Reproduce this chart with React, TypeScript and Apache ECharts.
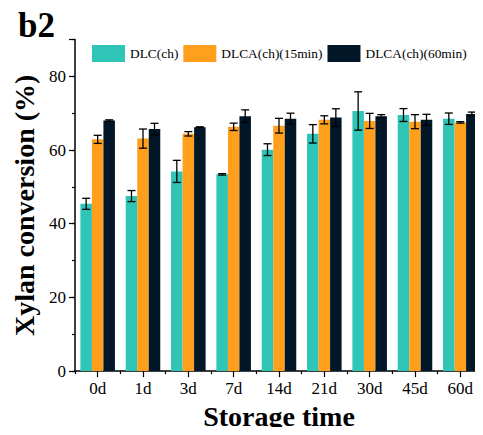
import React, { useEffect, useRef } from "react";
import * as echarts from "echarts";

const categories = ["0d", "1d", "3d", "7d", "14d", "21d", "30d", "45d", "60d"];
const seriesNames = ["DLC(ch)", "DLCA(ch)(15min)", "DLCA(ch)(60min)"];
const dlc = [45.4, 47.5, 54.2, 53.4, 60.1, 64.4, 70.6, 69.5, 68.5];
const dlcErr = [1.5, 1.5, 3.0, 0.2, 1.6, 2.5, 5.2, 1.75, 1.55];
const dlca15 = [62.9, 63.1, 64.4, 66.3, 66.6, 68.2, 67.9, 67.7, 67.5];
const dlca15Err = [1.1, 2.6, 0.6, 1.0, 2.0, 1.1, 2.05, 1.9, 0.2];
const dlca60 = [68.0, 65.7, 66.2, 69.2, 68.5, 68.8, 69.2, 68.2, 69.8];
const dlca60Err = [0.2, 1.55, 0.1, 1.7, 1.5, 2.4, 0.4, 1.5, 0.5];
const colors = ["#2EC4B6", "#FF9F1C", "#011627"];
const yTickLabels = [0, 20, 40, 60, 80];

const FONT = "'Liberation Serif', 'Times New Roman', serif";
const BAR_FRAC = 0.254;

export default function App() {
  const ref = useRef<HTMLDivElement>(null);
  useEffect(() => {
    if (!ref.current) return;
    const chart = echarts.init(ref.current, null, { renderer: "svg" });
    const values = [dlc, dlca15, dlca60];
    const errs = [dlcErr, dlca15Err, dlca60Err];

    const barSeries = values.map((v, i) => ({
      name: seriesNames[i],
      type: "bar",
      data: v,
      barWidth: BAR_FRAC * 100 + "%",
      barGap: "0%",
      itemStyle: { color: colors[i] },
      z: 2,
    }));

    const errSeries = values.map((v, i) => ({
      type: "custom",
      name: "err" + i,
      data: v.map((val, k) => [k, val, errs[i][k]]),
      z: 5,
      renderItem: (params: any, api: any) => {
        const k = api.value(0);
        const val = api.value(1);
        const e = api.value(2);
        const band = api.size([1, 0])[0];
        const off = (i - 1) * band * BAR_FRAC;
        const hi = api.coord([k, val + e]);
        const lo = api.coord([k, val - e]);
        const x = hi[0] + off;
        const cw = 4;
        const style = { stroke: "#000", lineWidth: 1.3 };
        return {
          type: "group",
          children: [
            { type: "line", shape: { x1: x, y1: hi[1], x2: x, y2: lo[1] }, style },
            { type: "line", shape: { x1: x - cw, y1: hi[1], x2: x + cw, y2: hi[1] }, style },
            { type: "line", shape: { x1: x - cw, y1: lo[1], x2: x + cw, y2: lo[1] }, style },
          ],
        };
      },
    }));

    chart.setOption({
      animation: false,
      title: {
        text: "b2",
        left: 13,
        top: 3,
        textStyle: { fontFamily: FONT, fontSize: 35, fontWeight: "bold", color: "#000" },
      },
      legend: {
        data: seriesNames,
        left: 87,
        top: 40,
        width: 440,
        itemWidth: 33,
        itemHeight: 17,
        itemGap: 5,
        icon: "rect",
        textStyle: { fontFamily: FONT, fontSize: 13.4, color: "#000" },
      },
      grid: { left: 75, right: -10, top: 39.5, bottom: 61, containLabel: false },
      xAxis: [
        {
          type: "category",
          data: categories,
          name: "Storage time",
          nameLocation: "middle",
          nameGap: 27,
          nameTextStyle: { fontFamily: FONT, fontSize: 28, fontWeight: "bold", color: "#000" },
          axisLine: { lineStyle: { color: "#000", width: 1.5 } },
          axisTick: { show: true, length: 3, lineStyle: { color: "#000", width: 1.2 } },
          axisLabel: { fontFamily: FONT, fontSize: 17, color: "#000", margin: 9 },
          splitLine: { show: false },
        },
        {
          type: "category",
          data: categories,
          position: "bottom",
          axisLine: { show: false },
          axisTick: { show: true, alignWithLabel: true, length: 6, lineStyle: { color: "#000", width: 1.2 } },
          axisLabel: { show: false },
          splitLine: { show: false },
        },
      ],
      yAxis: [
        {
          type: "value",
          min: 0,
          max: 90,
          interval: 10,
          name: "Xylan conversion (%)",
          nameLocation: "middle",
          nameGap: 33,
          nameTextStyle: { fontFamily: FONT, fontSize: 28, fontWeight: "bold", color: "#000" },
          axisLine: { show: true, lineStyle: { color: "#000", width: 1.5 } },
          axisTick: { show: true, length: 3, lineStyle: { color: "#000", width: 1.2 } },
          axisLabel: {
            fontFamily: FONT,
            fontSize: 17,
            color: "#000",
            margin: 9,
            formatter: (v: number) => (yTickLabels.indexOf(v) >= 0 ? String(v) : ""),
          },
          splitLine: { show: false },
        },
        {
          type: "value",
          min: 0,
          max: 90,
          interval: 20,
          position: "left",
          axisLine: { show: false },
          axisTick: { show: true, length: 6, lineStyle: { color: "#000", width: 1.2 } },
          axisLabel: { show: false },
          splitLine: { show: false },
        },
      ],
      series: [...barSeries, ...errSeries],
    });
    return () => chart.dispose();
  }, []);
  return <div ref={ref} style={{ width: 483, height: 435, margin: -8 }} />;
}
